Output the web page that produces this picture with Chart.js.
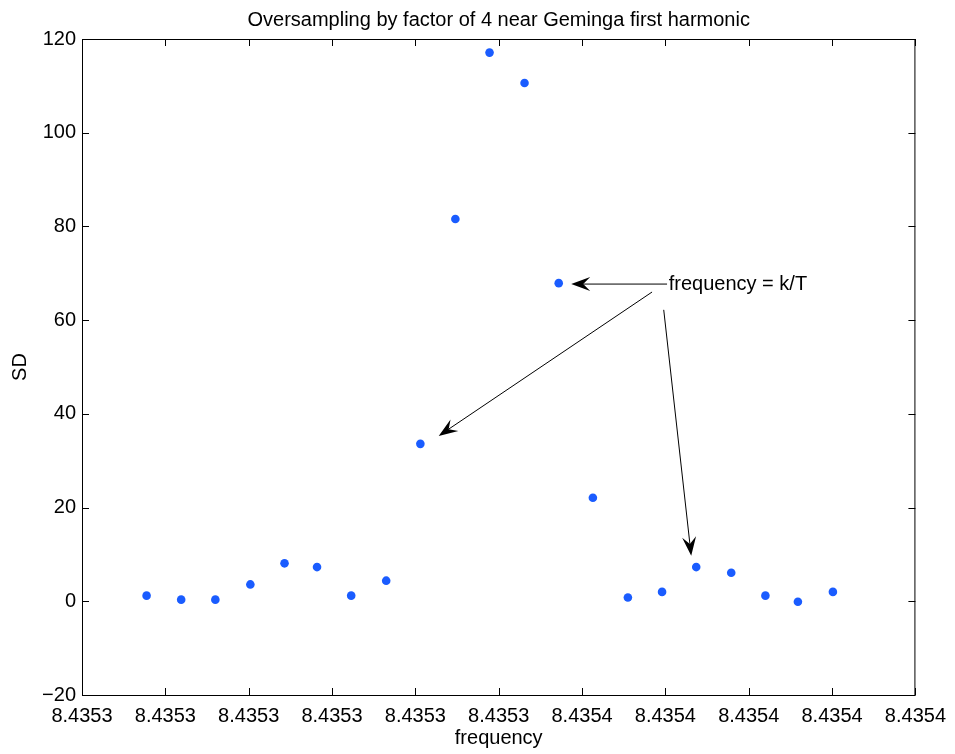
<!DOCTYPE html>
<html>
<head>
<meta charset="utf-8">
<script src="https://cdn.jsdelivr.net/npm/chart.js@4.4.1/dist/chart.umd.min.js"></script>
<style>
  html, body { margin: 0; padding: 0; background: #fff; }
  canvas { display: block; }
</style>
</head>
<body>
<canvas id="chart" width="955" height="754"></canvas>
<script>
// x positions in tick units (0..10 along the frequency axis)
const freqPos = [0.775, 1.19, 1.60, 2.02, 2.43, 2.82, 3.23, 3.65, 4.06, 4.48, 4.89,
                 5.31, 5.72, 6.13, 6.55, 6.96, 7.37, 7.79, 8.20, 8.59, 9.01]
const sdValues = [1.2, 0.35, 0.35, 3.6, 8.1, 7.3, 1.2, 4.4, 33.6, 81.6, 117.1,
                  110.6, 67.9, 22.1, 0.8, 2.0, 7.3, 6.1, 1.2, -0.1, 2.0]

const xTickLabels = ["8.4353", "8.4353", "8.4353", "8.4353", "8.4353", "8.4353",
                     "8.4354", "8.4354", "8.4354", "8.4354", "8.4354"]

const titleText = 'Oversampling by factor of 4 near Geminga first harmonic'
const noteText = "frequency = k/T"
const notePos = { x: 7.04, y: 67.7 }
// arrows: [fromX, fromY, toX, toY] in data units
const arrows = [
    [7.02, 67.7, 5.87, 67.7],
    [6.84, 66.0, 4.28, 35.3],
    [6.98, 62.2, 7.31, 9.7],
]

const FONT = "'Liberation Sans', Arial, Helvetica, sans-serif"

const frame = {
    id: 'frame',
    afterDraw(chart) {
        const { ctx, chartArea: a, scales: { x, y } } = chart
        ctx.save()
        ctx.strokeStyle = '#000'
        ctx.lineWidth = 1
        ctx.strokeRect(a.left + 0.5, a.top + 0.5, a.right - a.left - 1, a.bottom - a.top)
        const tl = 7
        ctx.beginPath()
        x.ticks.forEach(t => {
            const px = Math.round(x.getPixelForValue(t.value)) + 0.5
            ctx.moveTo(px, a.bottom); ctx.lineTo(px, a.bottom - tl)
            ctx.moveTo(px, a.top); ctx.lineTo(px, a.top + tl)
        })
        y.ticks.forEach(t => {
            const py = Math.round(y.getPixelForValue(t.value)) + 0.5
            ctx.moveTo(a.left, py); ctx.lineTo(a.left + tl, py)
            ctx.moveTo(a.right, py); ctx.lineTo(a.right - tl, py)
        })
        ctx.stroke()

        ctx.fillStyle = '#000'
        ctx.font = `20px ${FONT}`
        ctx.textBaseline = 'middle'

        // title, centred on the plot box
        ctx.textAlign = 'center'
        ctx.fillText(titleText, (a.left + a.right) / 2, 20)

        // annotation
        ctx.textAlign = 'left'
        ctx.fillText(noteText, x.getPixelForValue(notePos.x), y.getPixelForValue(notePos.y))

        arrows.forEach(([x0, y0, x1, y1]) => {
            const ax = x.getPixelForValue(x0), ay = y.getPixelForValue(y0)
            const bx = x.getPixelForValue(x1), by = y.getPixelForValue(y1)
            const ang = Math.atan2(by - ay, bx - ax)
            const len = 19, half = 7, notch = 12
            const c = Math.cos(ang), s = Math.sin(ang)
            ctx.beginPath()
            ctx.moveTo(ax, ay)
            ctx.lineTo(bx - c * notch, by - s * notch)
            ctx.stroke()
            ctx.beginPath()
            ctx.moveTo(bx, by)
            ctx.lineTo(bx - c * len - s * half, by - s * len + c * half)
            ctx.lineTo(bx - c * notch, by - s * notch)
            ctx.lineTo(bx - c * len + s * half, by - s * len - c * half)
            ctx.closePath()
            ctx.fill()
        })
        ctx.restore()
    }
}

new Chart(document.getElementById('chart').getContext('2d'), {
    type: 'scatter',
    data: {
        datasets: [{
            data: freqPos.map((f, i) => ({ x: f, y: sdValues[i] })),
            backgroundColor: '#1a5cff',
            borderColor: '#1a5cff',
            pointRadius: 4.3,
            pointBorderWidth: 0,
        }]
    },
    options: {
        responsive: false,
        animation: false,
        devicePixelRatio: 1,
        layout: { padding: { left: 0, right: 38, top: 39, bottom: 0 } },
        plugins: {
            legend: { display: false },
            tooltip: { enabled: false },
            title: { display: false },
        },
        scales: {
            x: {
                type: 'linear',
                min: 0, max: 10,
                grid: { display: false, drawTicks: false },
                border: { display: false },
                afterFit: s => { s.height = 59 },
                ticks: {
                    stepSize: 1,
                    padding: 9,
                    color: '#000',
                    maxRotation: 0,
                    autoSkip: false,
                    font: { family: FONT, size: 20 },
                    callback: (v, i) => xTickLabels[i],
                },
                title: {
                    display: true, text: 'frequency', color: '#000',
                    font: { family: FONT, size: 20, lineHeight: 1.2 },
                    padding: { top: 0, bottom: 4 },
                },
            },
            y: {
                type: 'linear',
                min: -20, max: 120,
                grid: { display: false, drawTicks: false },
                border: { display: false },
                afterFit: s => { s.width = 82 },
                ticks: {
                    stepSize: 20,
                    padding: 6,
                    color: '#000',
                    font: { family: FONT, size: 20 },
                    callback: v => v < 0 ? '\u2212' + Math.abs(v) : String(v),
                },
                title: {
                    display: true, text: 'SD', color: '#000',
                    font: { family: FONT, size: 20, lineHeight: 1.2 },
                    padding: { top: 8, bottom: 0 },
                },
            },
        },
    },
    plugins: [frame],
})
</script>
</body>
</html>
